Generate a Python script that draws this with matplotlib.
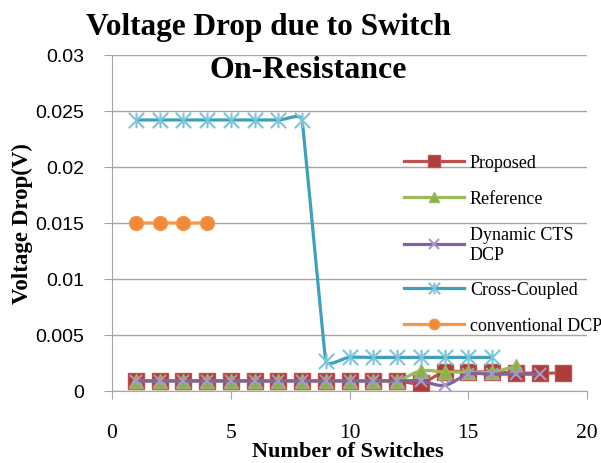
import numpy as np
import matplotlib
matplotlib.use("Agg")
import matplotlib.pyplot as plt
from matplotlib.path import Path
from matplotlib.patches import PathPatch
from matplotlib.lines import Line2D

# data
x_proposed = [1, 2, 3, 4, 5, 6, 7, 8, 9, 10, 11, 12, 13, 14, 15, 16, 17, 18, 19]
proposed = [0.0009, 0.0009, 0.0009, 0.0009, 0.0009, 0.0009, 0.0009, 0.0009, 0.0009, 0.0009,
            0.0009, 0.0009, 0.0007, 0.0017, 0.0017, 0.0017, 0.0016, 0.0016, 0.0016]
x_reference = [1, 2, 3, 4, 5, 6, 7, 8, 9, 10, 11, 12, 13, 14, 15, 16, 17]
reference = [0.0009, 0.0009, 0.0009, 0.0009, 0.0009, 0.0009, 0.0009, 0.0009, 0.0009, 0.0009,
             0.0009, 0.0009, 0.0018, 0.0017, 0.0017, 0.0017, 0.0022]
x_dynamic = [1, 2, 3, 4, 5, 6, 7, 8, 9, 10, 11, 12, 13, 14, 15, 16, 17, 18]
dynamic = [0.0009, 0.0009, 0.0009, 0.0009, 0.0009, 0.0009, 0.0009, 0.0009, 0.0009, 0.0009,
           0.0009, 0.0009, 0.0009, 0.0005, 0.0015, 0.0015, 0.0015, 0.0015]
x_cross = [1, 2, 3, 4, 5, 6, 7, 8, 9, 10, 11, 12, 13, 14, 15, 16]
cross = [0.0242, 0.0242, 0.0242, 0.0242, 0.0242, 0.0242, 0.0242, 0.0242, 0.0027, 0.0030,
         0.0030, 0.0030, 0.0030, 0.0030, 0.0030, 0.0030]
x_conv = [1, 2, 3, 4]
conv = [0.015, 0.015, 0.015, 0.015]

labels = ["Proposed", "Reference", "Dynamic CTS\nDCP", "Cross-Coupled", "conventional DCP"]

# excel-like star marker: vertical bar plus an X
star = Path([(0, -1), (0, 1), (-1, -1), (1, 1), (-1, 1), (1, -1)],
            [Path.MOVETO, Path.LINETO, Path.MOVETO, Path.LINETO, Path.MOVETO, Path.LINETO])


def smooth_path(ax, xs, ys):
    # excel-ish smoothed line, built in pixel space so the overshoot stays small
    p = ax.transData.transform(np.column_stack([xs, ys]).astype(float))
    n = len(p)
    seg = [np.hypot(*(p[i + 1] - p[i])) for i in range(n - 1)]
    tang, reach = [], []
    for i in range(n):
        a = p[i - 1] if i > 0 else p[i]
        b = p[i + 1] if i + 1 < n else p[i]
        d = b - a
        tang.append(d / np.hypot(*d))
        near = [seg[j] for j in (i - 1, i) if 0 <= j < n - 1]
        reach.append(min(near) / 3)
    verts = [p[0]]
    codes = [Path.MOVETO]
    for i in range(n - 1):
        verts += [p[i] + tang[i] * reach[i], p[i + 1] - tang[i + 1] * reach[i + 1], p[i + 1]]
        codes += [Path.CURVE4] * 3
    verts = ax.transData.inverted().transform(np.array(verts))
    return Path(verts, codes)


series = [
    (x_proposed, proposed, dict(color="#C0504D", marker="s", ms=11, mfc="#B03C3A", mec="#C0504D")),
    (x_reference, reference, dict(color="#9BBB59", marker="^", ms=10, mfc="#8DB04A", mec="#9BBB59")),
    (x_dynamic, dynamic, dict(color="#8064A2", marker="x", ms=9, mfc="#A898C8", mec="#A898C8", mew=1.5)),
    (x_cross, cross, dict(color="#3FA0BC", marker=star, ms=11, mfc="#7CC5DA", mec="#7CC5DA", mew=1.5)),
    (x_conv, conv, dict(color="#F79646", marker="o", ms=10, mfc="#F08A3A", mec="#F79646")),
]

fig = plt.figure(figsize=(6.01, 4.64), dpi=100)
ax = fig.add_axes([112 / 601, 1 - 392 / 464, 475 / 601, 336 / 464])
ax.set_xlim(0, 20)
ax.set_ylim(0, 0.03)

handles = []
for z, (xs, ys, st) in enumerate(series):
    ax.add_patch(PathPatch(smooth_path(ax, xs, ys), facecolor="none", edgecolor=st["color"],
                           lw=2.3, zorder=3 + z))
    ax.plot(xs, ys, linestyle="none", marker=st["marker"], ms=st["ms"], mfc=st["mfc"],
            mec=st["mec"], mew=st.get("mew", 1), zorder=3 + z)
    handles.append(Line2D([], [], color=st["color"], lw=2.3, marker=st["marker"],
                          ms=st["ms"] * 0.75, mfc=st["mfc"], mec=st["mec"], mew=st.get("mew", 1)))

ax.set_xlim(0, 20)
ax.set_ylim(0, 0.03)
ax.set_xticks([0, 5, 10, 15, 20])
ax.set_yticks([0, 0.005, 0.01, 0.015, 0.02, 0.025, 0.03])
ax.set_yticklabels(["0", "0.005", "0.01", "0.015", "0.02", "0.025", "0.03"])
ax.grid(axis="y", color="#A6A6A6", lw=1)
ax.set_axisbelow(True)
for s in ["top", "right"]:
    ax.spines[s].set_visible(False)
for s in ["left", "bottom"]:
    ax.spines[s].set_color("#A6A6A6")
ax.tick_params(axis="y", direction="out", length=6, color="#A6A6A6", pad=14,
               labelsize=14, labelfontfamily="Liberation Sans")
ax.tick_params(axis="x", direction="out", length=6, color="#A6A6A6", pad=17,
               labelsize=15.5, labelfontfamily="Liberation Serif")

fig.text(269 / 601, 1 - 28 / 464, "Voltage Drop due to Switch", ha="center", va="center",
         fontsize=22.5, fontweight="bold", family="Liberation Serif")
fig.text(308 / 601, 1 - 70 / 464, "On-Resistance", ha="center", va="center",
         fontsize=23, fontweight="bold", family="Liberation Serif")
fig.text(348 / 601, 1 - 462 / 464, "Number of Switches", ha="center", va="bottom",
         fontsize=16, fontweight="bold", family="Liberation Serif")
fig.text(22 / 601, 1 - 224 / 464, "Voltage Drop(V)", ha="center", va="center", rotation=90,
         fontsize=16.5, fontweight="bold", family="Liberation Serif")

ax.legend(handles, labels, loc="upper left", bbox_to_anchor=(404 / 601, 1 - 155 / 464),
          bbox_transform=fig.transFigure, frameon=False, borderpad=0, borderaxespad=0,
          handlelength=3.3, handletextpad=0.35, labelspacing=1.05,
          prop={"family": "Liberation Serif", "size": 13})

fig.savefig("out.png", dpi=100)
